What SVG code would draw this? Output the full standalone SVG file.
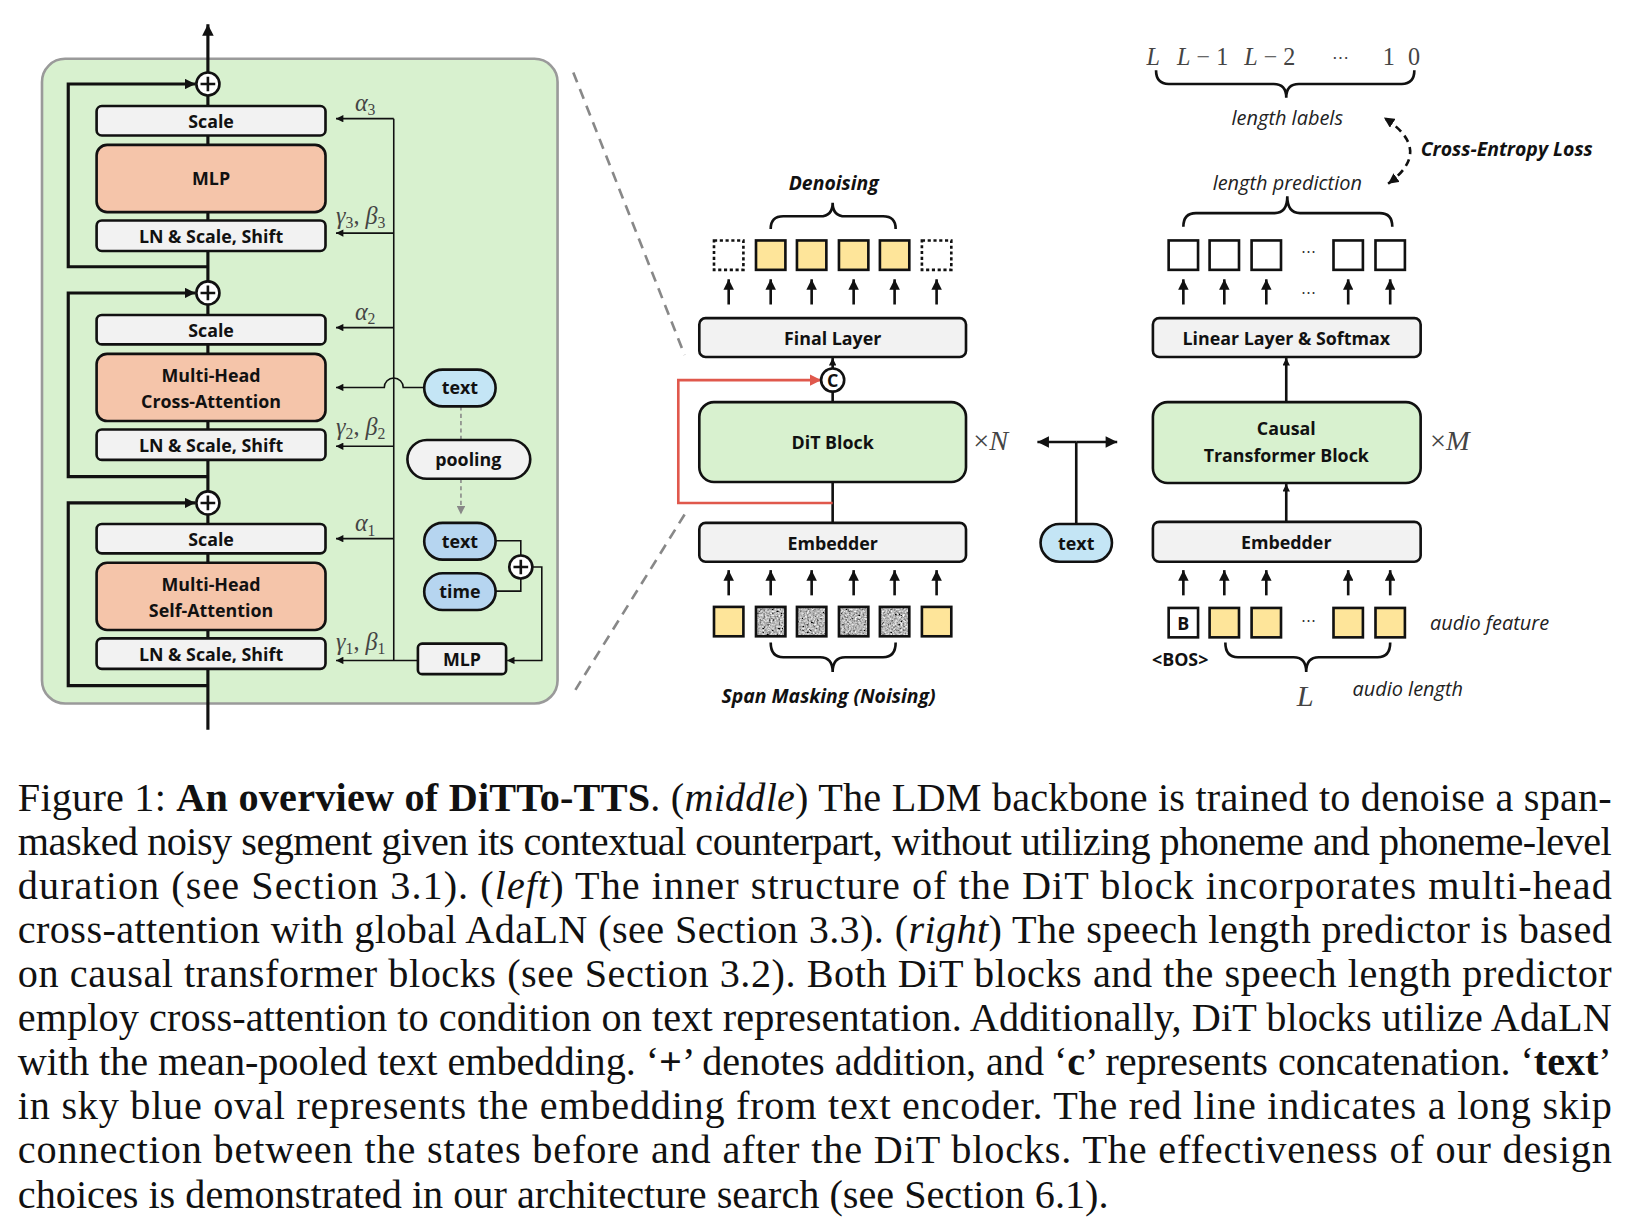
<svg xmlns="http://www.w3.org/2000/svg" width="1647" height="1228" viewBox="0 0 1647 1228">
<style>
.bx{fill:#f2f2f2;stroke:#111;stroke-width:2.5}
.or{fill:#f5c5aa;stroke:#111;stroke-width:2.5}
.gr{fill:#d8f1cf;stroke:#111;stroke-width:2.5}
.bl{fill:#c4e5f5;stroke:#111;stroke-width:2.5}
.bl2{fill:#b6d5f0;stroke:#111;stroke-width:2.5}
.ye{fill:#fee59a;stroke:#111;stroke-width:2.5}
.wh{fill:#fff;stroke:#111;stroke-width:2.5}
.lb{font-family:"Open Sans","Noto Sans",sans-serif;font-weight:700;font-size:17px;fill:#111;text-anchor:middle;dominant-baseline:central}
.it{font-family:"Open Sans","Noto Sans",sans-serif;font-style:italic;font-size:19px;fill:#222}
.bi{font-family:"Open Sans","Noto Sans",sans-serif;font-style:italic;font-weight:700;font-size:18.5px;fill:#111}
.mt{font-family:"Liberation Serif","DejaVu Serif",serif;font-size:23px;fill:#444}
.cap{font-family:"Liberation Serif","Times New Roman",serif;font-size:38.3px;fill:#111}
.thk{fill:none;stroke:#111;stroke-width:3}
.med{fill:none;stroke:#111;stroke-width:2.5}
.thn{fill:none;stroke:#111;stroke-width:1.5}
.brc{fill:none;stroke:#111;stroke-width:2.5}
</style>
<defs>
<marker id="aT" viewBox="0 0 10 10" refX="10" refY="5" markerUnits="userSpaceOnUse" markerWidth="12" markerHeight="11" orient="auto-start-reverse"><path d="M0,0 L10,5 L0,10 z" fill="#111"/></marker>
<marker id="aM" viewBox="0 0 10 10" refX="10" refY="5" markerUnits="userSpaceOnUse" markerWidth="10" markerHeight="10" orient="auto-start-reverse"><path d="M0,0 L10,5 L0,10 z" fill="#111"/></marker>
<marker id="aS" viewBox="0 0 10 10" refX="10" refY="5" markerUnits="userSpaceOnUse" markerWidth="8" markerHeight="7" orient="auto-start-reverse"><path d="M0,0 L10,5 L0,10 z" fill="#111"/></marker>
<marker id="aR" viewBox="0 0 10 10" refX="10" refY="5" markerUnits="userSpaceOnUse" markerWidth="11" markerHeight="11" orient="auto"><path d="M0,0 L10,5 L0,10 z" fill="#e0584c"/></marker>
<marker id="aG" viewBox="0 0 10 10" refX="10" refY="5" markerUnits="userSpaceOnUse" markerWidth="9" markerHeight="8" orient="auto"><path d="M0,0 L10,5 L0,10 z" fill="#888"/></marker>
<filter id="noise" x="0" y="0" width="100%" height="100%">
<feTurbulence type="fractalNoise" baseFrequency="0.55" numOctaves="2" seed="4" result="t"/>
<feColorMatrix in="t" type="matrix" values="0.33 0.33 0.33 0 0 0.33 0.33 0.33 0 0 0.33 0.33 0.33 0 0 0 0 0 0 1" result="g"/>
<feComponentTransfer in="g" result="c"><feFuncR type="linear" slope="2.4" intercept="-0.72"/><feFuncG type="linear" slope="2.4" intercept="-0.72"/><feFuncB type="linear" slope="2.4" intercept="-0.72"/><feFuncA type="linear" slope="0" intercept="1"/></feComponentTransfer>
<feComposite in="c" in2="SourceAlpha" operator="in"/>
</filter>
</defs>
<rect width="1647" height="1228" fill="#fff"/>
<g transform="scale(1.050)">

<!-- LEFT PANEL -->
<g id="dit-inner">
<rect x="40" y="56" width="491" height="614" rx="22" fill="#d8f1cf" stroke="#9a9a9a" stroke-width="2.5"/>
</g>

<g id="connectors">
<path class="thk" d="M198,695 V23" marker-end="url(#aT)"/>
<path class="thk" d="M198,254 H65 V80 H186" marker-end="url(#aM)"/>
<path class="thk" d="M198,454 H65 V279 H186" marker-end="url(#aM)"/>
<path class="thk" d="M198,653 H65 V479 H186" marker-end="url(#aM)"/>
<path class="thn" d="M375,113 V629"/>
<path class="thn" d="M375,113 H320" marker-end="url(#aS)"/>
<path class="thn" d="M375,222 H320" marker-end="url(#aS)"/>
<path class="thn" d="M375,312 H320" marker-end="url(#aS)"/>
<path class="thn" d="M375,425 H320" marker-end="url(#aS)"/>
<path class="thn" d="M375,513 H320" marker-end="url(#aS)"/>
<path class="thn" d="M398,629 H320" marker-end="url(#aS)"/>
<path class="thn" d="M404,369 H384 A9,9 0 0 0 366,369 H320" marker-end="url(#aS)"/>
<path fill="none" stroke="#888" stroke-width="1.5" stroke-dasharray="4,3" d="M439,387 V419"/>
<path fill="none" stroke="#888" stroke-width="1.5" stroke-dasharray="4,3" d="M439,456 V490" marker-end="url(#aG)"/>
<path class="thn" d="M472,515 H496 V529"/>
<path class="thn" d="M472,563 H496 V551"/>
<path class="thn" d="M507,540 H516 V629 H483" marker-end="url(#aS)"/>
<path fill="none" stroke="#888" stroke-width="2.5" stroke-dasharray="10,7" d="M546,69 L652,338"/>
<path fill="none" stroke="#888" stroke-width="2.5" stroke-dasharray="10,7" d="M652,490 L548,657"/>
<!-- middle -->
<path class="med" d="M793,498 V459"/>
<path class="med" d="M793,383 V373"/>
<path class="med" d="M793,351 V341" marker-end="url(#aS)"/>
<path fill="none" stroke="#e0584c" stroke-width="2.5" d="M793,479 H646 V362 H782" marker-end="url(#aR)"/>
<path class="med" d="M694,290 V266" marker-end="url(#aM)"/>
<path class="med" d="M734,290 V266" marker-end="url(#aM)"/>
<path class="med" d="M773,290 V266" marker-end="url(#aM)"/>
<path class="med" d="M813,290 V266" marker-end="url(#aM)"/>
<path class="med" d="M852,290 V266" marker-end="url(#aM)"/>
<path class="med" d="M892,290 V266" marker-end="url(#aM)"/>
<path class="med" d="M694,567 V543" marker-end="url(#aM)"/>
<path class="med" d="M734,567 V543" marker-end="url(#aM)"/>
<path class="med" d="M773,567 V543" marker-end="url(#aM)"/>
<path class="med" d="M813,567 V543" marker-end="url(#aM)"/>
<path class="med" d="M852,567 V543" marker-end="url(#aM)"/>
<path class="med" d="M892,567 V543" marker-end="url(#aM)"/>
<path class="med" d="M1025,499 V421"/>
<path class="med" d="M1025,421 H988" marker-end="url(#aT)"/>
<path class="med" d="M1025,421 H1064" marker-end="url(#aT)"/>
<!-- right -->
<path class="med" d="M1225,383 V341" marker-end="url(#aS)"/>
<path class="med" d="M1225,497 V461" marker-end="url(#aS)"/>
<path class="med" d="M1127,290 V266" marker-end="url(#aM)"/>
<path class="med" d="M1166,290 V266" marker-end="url(#aM)"/>
<path class="med" d="M1206,290 V266" marker-end="url(#aM)"/>
<path class="med" d="M1284,290 V266" marker-end="url(#aM)"/>
<path class="med" d="M1324,290 V266" marker-end="url(#aM)"/>
<path class="med" d="M1127,567 V543" marker-end="url(#aM)"/>
<path class="med" d="M1166,567 V543" marker-end="url(#aM)"/>
<path class="med" d="M1206,567 V543" marker-end="url(#aM)"/>
<path class="med" d="M1284,567 V543" marker-end="url(#aM)"/>
<path class="med" d="M1324,567 V543" marker-end="url(#aM)"/>
<path fill="none" stroke="#111" stroke-width="2.5" stroke-dasharray="7,5" d="M1322,175 Q1366,143 1318,112" marker-start="url(#aM)" marker-end="url(#aM)"/>
<!-- braces -->
<path class="brc" d="M734,218 Q734,206 746,206 H781 Q793,206 793,193 Q793,206 805,206 H841 Q853,206 853,218"/>
<path class="brc" d="M1127,216 Q1127,203 1139,203 H1214 Q1226,203 1226,187 Q1226,203 1238,203 H1314 Q1326,203 1326,216"/>
<path class="brc" d="M1101,67 Q1101,80 1113,80 H1213 Q1225,80 1225,93 Q1225,80 1237,80 H1335 Q1347,80 1347,67"/>
<path class="brc" d="M734,612 Q734,626 746,626 H781 Q793,626 793,640 Q793,626 805,626 H841 Q853,626 853,612"/>
<path class="brc" d="M1167,612 Q1167,626 1179,626 H1232 Q1244,626 1244,640 Q1244,626 1256,626 H1312 Q1324,626 1324,612"/>
</g>

<g id="plus1"><circle cx="198" cy="80" r="11" class="wh"/><path class="med" d="M191,80 H205 M198,73 V87" stroke-width="2"/></g>
<g id="plus2"><circle cx="198" cy="279" r="11" class="wh"/><path class="med" d="M191,279 H205 M198,272 V286" stroke-width="2"/></g>
<g id="plus3"><circle cx="198" cy="479" r="11" class="wh"/><path class="med" d="M191,479 H205 M198,472 V486" stroke-width="2"/></g>
<g id="scale1"><rect class="bx" x="92" y="101" width="218" height="28" rx="5"/><text class="lb" x="201" y="115">Scale</text></g>
<g id="mlp1"><rect class="or" x="92" y="138" width="218" height="64" rx="10"/><text class="lb" x="201" y="170">MLP</text></g>
<g id="ln1"><rect class="bx" x="92" y="210" width="218" height="29" rx="5"/><text class="lb" x="201" y="225">LN &amp; Scale, Shift</text></g>
<g id="scale2"><rect class="bx" x="92" y="300" width="218" height="28" rx="5"/><text class="lb" x="201" y="314">Scale</text></g>
<g id="mhca"><rect class="or" x="92" y="337" width="218" height="64" rx="10"/><text class="lb" x="201" y="357">Multi-Head</text><text class="lb" x="201" y="382">Cross-Attention</text></g>
<g id="ln2"><rect class="bx" x="92" y="409" width="218" height="29" rx="5"/><text class="lb" x="201" y="424">LN &amp; Scale, Shift</text></g>
<g id="scale3"><rect class="bx" x="92" y="499" width="218" height="28" rx="5"/><text class="lb" x="201" y="513">Scale</text></g>
<g id="mhsa"><rect class="or" x="92" y="536" width="218" height="64" rx="10"/><text class="lb" x="201" y="556">Multi-Head</text><text class="lb" x="201" y="581">Self-Attention</text></g>
<g id="ln3"><rect class="bx" x="92" y="608" width="218" height="29" rx="5"/><text class="lb" x="201" y="623">LN &amp; Scale, Shift</text></g>

<g id="params" class="mt">
<text x="338" y="106"><tspan font-style="italic">α</tspan><tspan font-size="15" dy="4">3</tspan></text>
<text x="320" y="213"><tspan font-style="italic">γ</tspan><tspan font-size="15" dy="4">3</tspan><tspan dy="-4">, </tspan><tspan font-style="italic">β</tspan><tspan font-size="15" dy="4">3</tspan></text>
<text x="338" y="305"><tspan font-style="italic">α</tspan><tspan font-size="15" dy="4">2</tspan></text>
<text x="320" y="414"><tspan font-style="italic">γ</tspan><tspan font-size="15" dy="4">2</tspan><tspan dy="-4">, </tspan><tspan font-style="italic">β</tspan><tspan font-size="15" dy="4">2</tspan></text>
<text x="338" y="506"><tspan font-style="italic">α</tspan><tspan font-size="15" dy="4">1</tspan></text>
<text x="320" y="619"><tspan font-style="italic">γ</tspan><tspan font-size="15" dy="4">1</tspan><tspan dy="-4">, </tspan><tspan font-style="italic">β</tspan><tspan font-size="15" dy="4">1</tspan></text>
</g>

<g id="text-oval1"><rect class="bl" x="404" y="352" width="68" height="35" rx="17.5"/><text class="lb" x="438" y="369">text</text></g>
<g id="pooling"><rect class="bx" x="388" y="419" width="117" height="37" rx="18.5"/><text class="lb" x="446" y="437">pooling</text></g>
<g id="text-oval2"><rect class="bl2" x="404" y="498" width="68" height="35" rx="17.5"/><text class="lb" x="438" y="515">text</text></g>
<g id="time-oval"><rect class="bl2" x="404" y="546" width="68" height="35" rx="17.5"/><text class="lb" x="438" y="563">time</text></g>
<g id="plus4"><circle cx="496" cy="540" r="11" class="wh"/><path class="med" d="M489,540 H503 M496,533 V547" stroke-width="2"/></g>
<g id="mlp2"><rect class="bx" x="398" y="613" width="84" height="29" rx="4"/><text class="lb" x="440" y="628">MLP</text></g>

<!-- MIDDLE PANEL -->
<g id="denoise-label"><text class="bi" x="794" y="181" text-anchor="middle">Denoising</text></g>
<g id="out-tokens">
<rect x="680" y="229" width="28" height="28" fill="none" stroke="#111" stroke-width="2.5" stroke-dasharray="3,2.5"/>
<rect class="ye" x="720" y="229" width="28" height="28"/>
<rect class="ye" x="759" y="229" width="28" height="28"/>
<rect class="ye" x="799" y="229" width="28" height="28"/>
<rect class="ye" x="838" y="229" width="28" height="28"/>
<rect x="878" y="229" width="28" height="28" fill="none" stroke="#111" stroke-width="2.5" stroke-dasharray="3,2.5"/>
</g>
<g id="final-layer"><rect class="bx" x="666" y="303" width="254" height="37" rx="6"/><text class="lb" x="793" y="322">Final Layer</text></g>
<g id="concat"><circle cx="793" cy="362" r="11" class="wh"/><text class="lb" x="793" y="362" font-size="16">C</text></g>
<g id="dit-block"><rect class="gr" x="666" y="383" width="254" height="76" rx="14"/><text class="lb" x="793" y="421">DiT Block</text></g>
<g id="xN" class="mt"><text x="927" y="429" font-size="27">×<tspan font-style="italic">N</tspan></text></g>
<g id="embedder1"><rect class="bx" x="666" y="498" width="254" height="37" rx="6"/><text class="lb" x="793" y="517">Embedder</text></g>
<g id="in-tokens">
<rect class="ye" x="680" y="578" width="28" height="28"/>
<rect x="720" y="578" width="28" height="28" fill="#999" filter="url(#noise)"/><rect x="720" y="578" width="28" height="28" fill="none" stroke="#111" stroke-width="2.5"/>
<rect x="759" y="578" width="28" height="28" fill="#999" filter="url(#noise)"/><rect x="759" y="578" width="28" height="28" fill="none" stroke="#111" stroke-width="2.5"/>
<rect x="799" y="578" width="28" height="28" fill="#999" filter="url(#noise)"/><rect x="799" y="578" width="28" height="28" fill="none" stroke="#111" stroke-width="2.5"/>
<rect x="838" y="578" width="28" height="28" fill="#999" filter="url(#noise)"/><rect x="838" y="578" width="28" height="28" fill="none" stroke="#111" stroke-width="2.5"/>
<rect class="ye" x="878" y="578" width="28" height="28"/>
</g>
<g id="span-label"><text class="bi" x="789" y="670" text-anchor="middle">Span Masking (Noising)</text></g>
<g id="text-oval3"><rect class="bl" x="991" y="499" width="68" height="36" rx="18"/><text class="lb" x="1025" y="517">text</text></g>

<!-- RIGHT PANEL -->
<g id="length-labels" class="mt">
<text x="1092" y="62" font-style="italic">L</text>
<text x="1121" y="62"><tspan font-style="italic">L</tspan> − 1</text>
<text x="1185" y="62"><tspan font-style="italic">L</tspan> − 2</text>
<text x="1277" y="60" font-family="DejaVu Serif" font-size="16" text-anchor="middle">⋯</text>
<text x="1317" y="62">1</text>
<text x="1341" y="62">0</text>
</g>
<g id="ll-text"><text class="it" x="1226" y="119" text-anchor="middle">length labels</text></g>
<g id="ce-text"><text class="bi" x="1353" y="149">Cross-Entropy Loss</text></g>
<g id="lp-text"><text class="it" x="1226" y="181" text-anchor="middle">length prediction</text></g>
<g id="pred-tokens">
<rect class="wh" x="1113" y="229" width="28" height="28"/>
<rect class="wh" x="1152" y="229" width="28" height="28"/>
<rect class="wh" x="1192" y="229" width="28" height="28"/>
<text x="1246" y="244" font-family="DejaVu Serif" font-size="14" text-anchor="middle" fill="#333">⋯</text>
<rect class="wh" x="1270" y="229" width="28" height="28"/>
<rect class="wh" x="1310" y="229" width="28" height="28"/>
<text x="1246" y="283" font-family="DejaVu Serif" font-size="14" text-anchor="middle" fill="#333">⋯</text>
</g>
<g id="linear-softmax"><rect class="bx" x="1098" y="303" width="255" height="37" rx="6"/><text class="lb" x="1225" y="322">Linear Layer &amp; Softmax</text></g>
<g id="causal"><rect class="gr" x="1098" y="383" width="255" height="77" rx="14"/><text class="lb" x="1225" y="408">Causal</text><text class="lb" x="1225" y="433">Transformer Block</text></g>
<g id="xM" class="mt"><text x="1362" y="429" font-size="27">×<tspan font-style="italic">M</tspan></text></g>
<g id="embedder2"><rect class="bx" x="1098" y="497" width="255" height="38" rx="6"/><text class="lb" x="1225" y="516">Embedder</text></g>
<g id="audio-tokens">
<rect class="wh" x="1113" y="579" width="28" height="28"/><text class="lb" x="1127" y="593" font-size="12">B</text>
<rect class="ye" x="1152" y="579" width="28" height="28"/>
<rect class="ye" x="1192" y="579" width="28" height="28"/>
<text x="1246" y="595" font-family="DejaVu Serif" font-size="14" text-anchor="middle" fill="#333">⋯</text>
<rect class="ye" x="1270" y="579" width="28" height="28"/>
<rect class="ye" x="1310" y="579" width="28" height="28"/>
</g>
<g id="bos"><text class="lb" x="1124" y="628" font-size="15">&lt;BOS&gt;</text></g>
<g id="af-text"><text class="it" x="1362" y="600">audio feature</text></g>
<g id="L-text" class="mt"><text x="1235" y="672" font-size="29" font-style="italic">L</text></g>
<g id="al-text"><text class="it" x="1288" y="663">audio length</text></g>

<!-- CAPTION -->
<g id="caption" class="cap">
<text x="17" y="772" textLength="1518" lengthAdjust="spacing">Figure 1: <tspan font-weight="bold">An overview of DiTTo-TTS</tspan>. (<tspan font-style="italic">middle</tspan>) The LDM backbone is trained to denoise a span-</text>
<text x="17" y="814" textLength="1518" lengthAdjust="spacing">masked noisy segment given its contextual counterpart, without utilizing phoneme and phoneme-level</text>
<text x="17" y="856" textLength="1518" lengthAdjust="spacing">duration (see Section 3.1).  (<tspan font-style="italic">left</tspan>) The inner structure of the DiT block incorporates multi-head</text>
<text x="17" y="898" textLength="1518" lengthAdjust="spacing">cross-attention with global AdaLN (see Section 3.3). (<tspan font-style="italic">right</tspan>) The speech length predictor is based</text>
<text x="17" y="940" textLength="1518" lengthAdjust="spacing">on causal transformer blocks (see Section 3.2).  Both DiT blocks and the speech length predictor</text>
<text x="17" y="982" textLength="1518" lengthAdjust="spacing">employ cross-attention to condition on text representation. Additionally, DiT blocks utilize AdaLN</text>
<text x="17" y="1024" textLength="1518" lengthAdjust="spacing">with the mean-pooled text embedding. ‘<tspan font-weight="bold">+</tspan>’ denotes addition, and ‘<tspan font-weight="bold">c</tspan>’ represents concatenation. ‘<tspan font-weight="bold">text</tspan>’</text>
<text x="17" y="1066" textLength="1518" lengthAdjust="spacing">in sky blue oval represents the embedding from text encoder.  The red line indicates a long skip</text>
<text x="17" y="1108" textLength="1518" lengthAdjust="spacing">connection between the states before and after the DiT blocks.  The effectiveness of our design</text>
<text x="17" y="1150">choices is demonstrated in our architecture search (see Section 6.1).</text>
</g>
</g>
</svg>
